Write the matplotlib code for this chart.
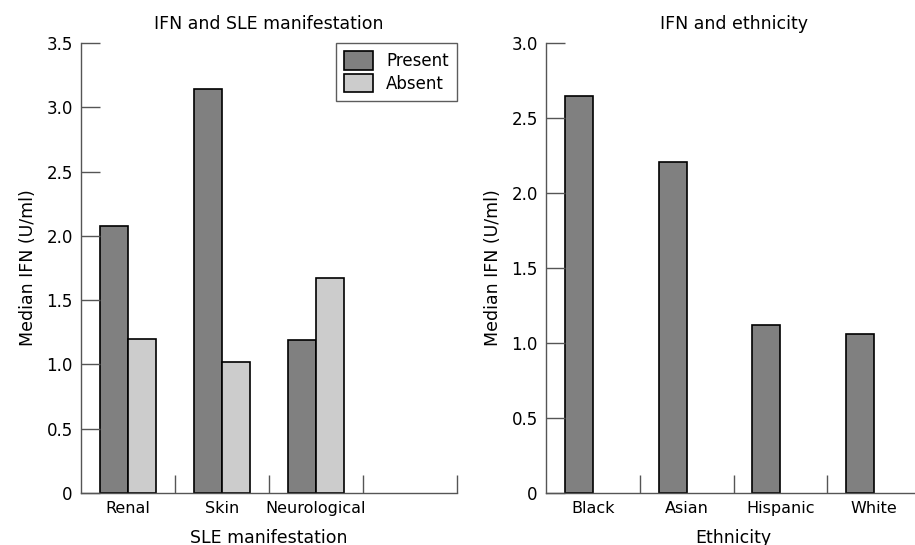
import numpy as np
import matplotlib.pyplot as plt
from matplotlib.ticker import FixedLocator, FuncFormatter

# Dados
manifestations = ['Renal', 'Skin', 'Neurological', '']
present = [2.08, 3.14, 1.19]
absent = [1.20, 1.02, 1.67]

ethnicities = ['Black', 'Asian', 'Hispanic', 'White']
ethnicity_ifn = [2.65, 2.21, 1.12, 1.06]

dark = '#808080'
light = '#cccccc'
axis_color = '#555555'

plt.rcParams['font.family'] = 'DejaVu Sans'

fig = plt.figure(figsize=(9.15, 5.45), dpi=100)
ax1 = fig.add_axes([81 / 915, 52 / 545, 376 / 915, 450 / 545])
ax2 = fig.add_axes([546 / 915, 52 / 545, 375 / 915, 450 / 545])


def style_axis(ax, labels, ymax, title, xlabel):
    # Eixos no estilo do artigo: sem moldura superior/direita
    ax.set_xlim(-0.5, len(labels) - 0.5)
    ax.set_ylim(0, ymax)
    for side in ['top', 'right']:
        ax.spines[side].set_visible(False)
    for side in ['left', 'bottom']:
        ax.spines[side].set_color(axis_color)
        ax.spines[side].set_linewidth(1.0)

    yticks = np.arange(0, ymax + 0.01, 0.5)
    ax.set_yticks(yticks)
    ax.yaxis.set_major_formatter(FuncFormatter(lambda v, p: '0' if v == 0 else f'{v:.1f}'))
    ax.tick_params(axis='y', direction='in', length=14, width=1, color=axis_color,
                   labelsize=12, pad=6)

    ax.set_xticks(range(len(labels)))
    ax.set_xticklabels(labels, fontsize=11.5)
    ax.xaxis.set_minor_locator(FixedLocator(np.arange(0.5, len(labels), 1)))
    ax.tick_params(axis='x', which='major', length=0, pad=6)
    ax.tick_params(axis='x', which='minor', direction='in', length=13, width=1,
                   color=axis_color)

    ax.set_title(title, fontsize=12.5, pad=10)
    ax.set_xlabel(xlabel, fontsize=12.5, labelpad=9)
    ax.set_ylabel('Median IFN (U/ml)', fontsize=12.5, labelpad=7)


x1 = np.arange(len(present))
ax1.bar(x1 - 0.15, present, width=0.3, color=dark, edgecolor='black', linewidth=1.2,
        label='Present')
ax1.bar(x1 + 0.15, absent, width=0.3, color=light, edgecolor='black', linewidth=1.2,
        label='Absent')
style_axis(ax1, manifestations, 3.5, 'IFN and SLE manifestation', 'SLE manifestation')

leg = ax1.legend(loc='upper right', bbox_to_anchor=(1.0, 1.0), borderaxespad=0,
                 fancybox=False, fontsize=12, handlelength=1.7, handleheight=1.3,
                 labelspacing=0.25, handletextpad=0.8, borderpad=0.5)
leg.get_frame().set_edgecolor('#333333')
leg.get_frame().set_linewidth(1.0)

x2 = np.arange(len(ethnicity_ifn))
ax2.bar(x2 - 0.15, ethnicity_ifn, width=0.3, color=dark, edgecolor='black', linewidth=1.2)
style_axis(ax2, ethnicities, 3.0, 'IFN and ethnicity', 'Ethnicity')

plt.savefig('out.png', dpi=100)
plt.close()
